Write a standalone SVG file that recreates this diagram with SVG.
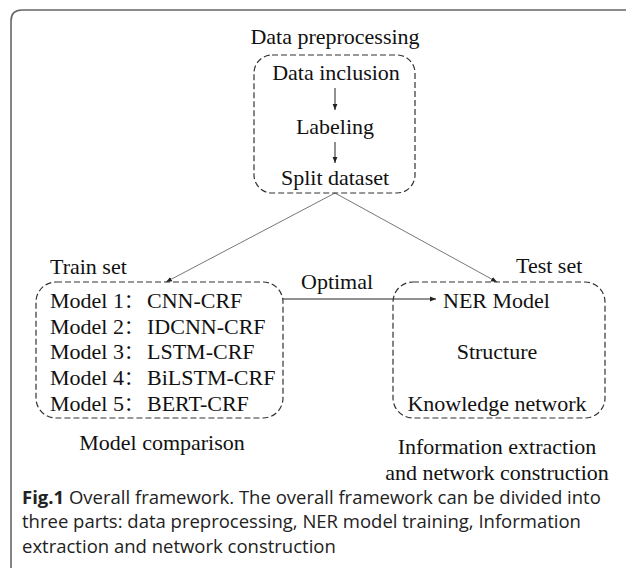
<svg xmlns="http://www.w3.org/2000/svg" width="630" height="571" viewBox="0 0 630 571">
<defs>
<style>
.t{font-family:"Liberation Serif","Times New Roman",serif;font-size:22px;fill:#111}
.cj{font-family:"Noto Sans CJK SC","Liberation Serif",sans-serif;font-size:19px}
.c{font-family:"Open Sans","Noto Sans",sans-serif;font-size:18.5px;fill:#222}
.box{fill:none;stroke:#333;stroke-width:1.2;stroke-dasharray:6 3}
.ln{fill:none;stroke:#777;stroke-width:1}
.ar{fill:none;stroke:#222;stroke-width:1}
</style>
<marker id="ah" viewBox="0 0 10 10" refX="10" refY="5" markerWidth="6" markerHeight="6" markerUnits="userSpaceOnUse" orient="auto">
<path d="M0,1 L10,5 L0,9 z" fill="#222"/>
</marker>
</defs>
<rect width="630" height="571" fill="#fff"/>
<path d="M11,568 L11,21 Q11,10 22,10 L626,10" fill="none" stroke="#666" stroke-width="1.6"/>
<g id="connectors">
<line class="ar" x1="335" y1="88" x2="335" y2="110" marker-end="url(#ah)"/>
<line class="ar" x1="335" y1="142" x2="335" y2="163" marker-end="url(#ah)"/>
<line class="ln" x1="335" y1="193" x2="166" y2="282" marker-end="url(#ah)"/>
<line class="ln" x1="335" y1="193" x2="497" y2="282" marker-end="url(#ah)"/>
<line class="ar" x1="283" y1="299" x2="436" y2="299" marker-end="url(#ah)"/>
<text class="t" x="301" y="289">Optimal</text>
</g>
<g id="preprocessing">
<text class="t" x="335" y="44" text-anchor="middle">Data preprocessing</text>
<rect class="box" x="254" y="55" width="161" height="138" rx="18"/>
<text class="t" x="336" y="80" text-anchor="middle">Data inclusion</text>
<text class="t" x="335" y="134" text-anchor="middle">Labeling</text>
<text class="t" x="335" y="185" text-anchor="middle">Split dataset</text>
</g>
<g id="train">
<text class="t" x="50" y="274">Train set</text>
<rect class="box" x="36" y="282" width="247" height="136" rx="20"/>
<text class="t" x="50" y="308">Model 1<tspan class="cj">：</tspan><tspan x="147">CNN-CRF</tspan></text>
<text class="t" x="50" y="334">Model 2<tspan class="cj">：</tspan><tspan x="147">IDCNN-CRF</tspan></text>
<text class="t" x="50" y="359">Model 3<tspan class="cj">：</tspan><tspan x="147">LSTM-CRF</tspan></text>
<text class="t" x="50" y="385">Model 4<tspan class="cj">：</tspan><tspan x="147">BiLSTM-CRF</tspan></text>
<text class="t" x="50" y="411">Model 5<tspan class="cj">：</tspan><tspan x="147">BERT-CRF</tspan></text>
<text class="t" x="162" y="450" text-anchor="middle">Model comparison</text>
</g>
<g id="test">
<text class="t" x="516" y="273">Test set</text>
<rect class="box" x="393" y="282" width="212" height="136" rx="20"/>
<text class="t" x="443" y="308">NER Model</text>
<text class="t" x="497" y="359" text-anchor="middle">Structure</text>
<text class="t" x="497" y="411" text-anchor="middle">Knowledge network</text>
<text class="t" x="497" y="454" text-anchor="middle">Information extraction</text>
<text class="t" x="497" y="480" text-anchor="middle">and network construction</text>
</g>
<g id="caption">
<text class="c" x="22" y="504"><tspan font-weight="bold">Fig.1</tspan>  Overall framework. The overall framework can be divided into</text>
<text class="c" x="22" y="528">three parts: data preprocessing, NER model training, Information</text>
<text class="c" x="22" y="553">extraction and network construction</text>
</g>
</svg>
